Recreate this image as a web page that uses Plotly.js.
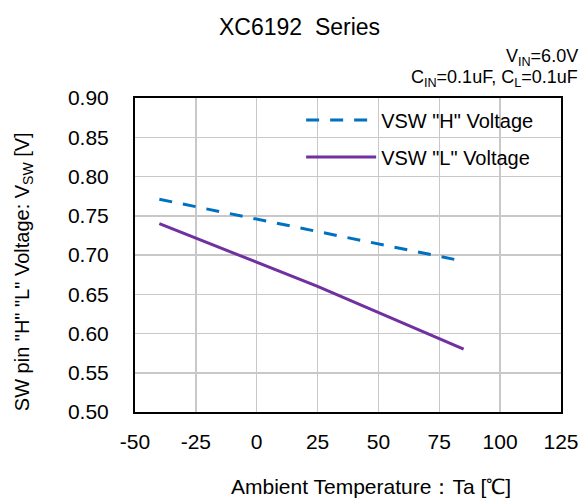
<!DOCTYPE html>
<html>
<head>
<meta charset="utf-8">
<script src="https://cdn.plot.ly/plotly-3.0.1.min.js"></script>
<style>html,body{margin:0;padding:0;background:#fff}#chart{width:584px;height:499px}</style>
</head>
<body>
<div id="chart"></div>
<script>
var temps = [-40, 25, 85];
var vswH = [0.771, 0.730, 0.692];
var vswL = [0.740, 0.660, 0.580];
var seriesNames = ['VSW "H" Voltage', 'VSW "L" Voltage'];
var xTicks = [-50, -25, 0, 25, 50, 75, 100, 125];
var yTicks = [0.50, 0.55, 0.60, 0.65, 0.70, 0.75, 0.80, 0.85, 0.90];

var font = 'Liberation Sans, Arial, sans-serif';
var traces = [
  {x: temps, y: vswH, name: seriesNames[0], legendgroup: 'h', mode: 'lines', line: {color: '#0070C0', width: 3, dash: '13px,11px'}},
  {x: temps, y: vswL, name: seriesNames[1], legendgroup: 'l', mode: 'lines', line: {color: '#7030A0', width: 3}}
];
var layout = {
  width: 584, height: 499,
  margin: {l: 135, r: 23, t: 98, b: 87},
  paper_bgcolor: '#fff', plot_bgcolor: '#fff',
  font: {family: font, size: 20, color: '#000'},
  title: {text: 'XC6192  Series', x: 0.513, xanchor: 'center', y: 0.946, yanchor: 'middle', font: {family: font, size: 23, color: '#000'}},
  xaxis: {
    range: [-50, 125], tickvals: xTicks, ticktext: xTicks.map(String),
    showgrid: true, gridcolor: '#c8c8c8', gridwidth: 1.5,
    showline: true, linecolor: '#000', linewidth: 2, mirror: true,
    zeroline: false, ticks: '', ticklabelstandoff: 10,
    tickfont: {family: font, size: 21, color: '#000'}
  },
  yaxis: {
    range: [0.50, 0.90], tickvals: yTicks, ticktext: yTicks.map(function(v){return v.toFixed(2);}),
    showgrid: true, gridcolor: '#c8c8c8', gridwidth: 1.5,
    showline: true, linecolor: '#000', linewidth: 2, mirror: true,
    zeroline: false, ticks: '', ticklabelstandoff: 20,
    tickfont: {family: font, size: 21, color: '#000'}
  },
  showlegend: true,
  legend: {x: 0.39, y: 0.992, xanchor: 'left', yanchor: 'top', bgcolor: 'rgba(0,0,0,0)',
    font: {family: font, size: 20, color: '#000'}, itemwidth: 70, tracegroupgap: 8},
  annotations: [
    {xref: 'paper', yref: 'paper', x: 1.045, y: 1.13, xanchor: 'right', yanchor: 'middle', showarrow: false,
     text: 'V<sub>IN</sub>=6.0V', font: {family: font, size: 18, color: '#000'}},
    {xref: 'paper', yref: 'paper', x: 1.045, y: 1.063, xanchor: 'right', yanchor: 'middle', showarrow: false,
     text: 'C<sub>IN</sub>=0.1uF, C<sub>L</sub>=0.1uF', font: {family: font, size: 18, color: '#000'}},
    {xref: 'paper', yref: 'paper', x: 0.554, y: -0.236, xanchor: 'center', yanchor: 'middle', showarrow: false,
     text: 'Ambient Temperature：Ta [℃]', font: {family: font, size: 21, color: '#000'}},
    {xref: 'paper', yref: 'paper', x: -0.26, y: 0.446, xanchor: 'center', yanchor: 'middle', showarrow: false, textangle: -90,
     text: 'SW pin "H" "L" Voltage: V<sub>SW</sub> [V]', font: {family: font, size: 20, color: '#000'}}
  ]
};
Plotly.newPlot('chart', traces, layout, {displayModeBar: false, staticPlot: true});
</script>
</body>
</html>
